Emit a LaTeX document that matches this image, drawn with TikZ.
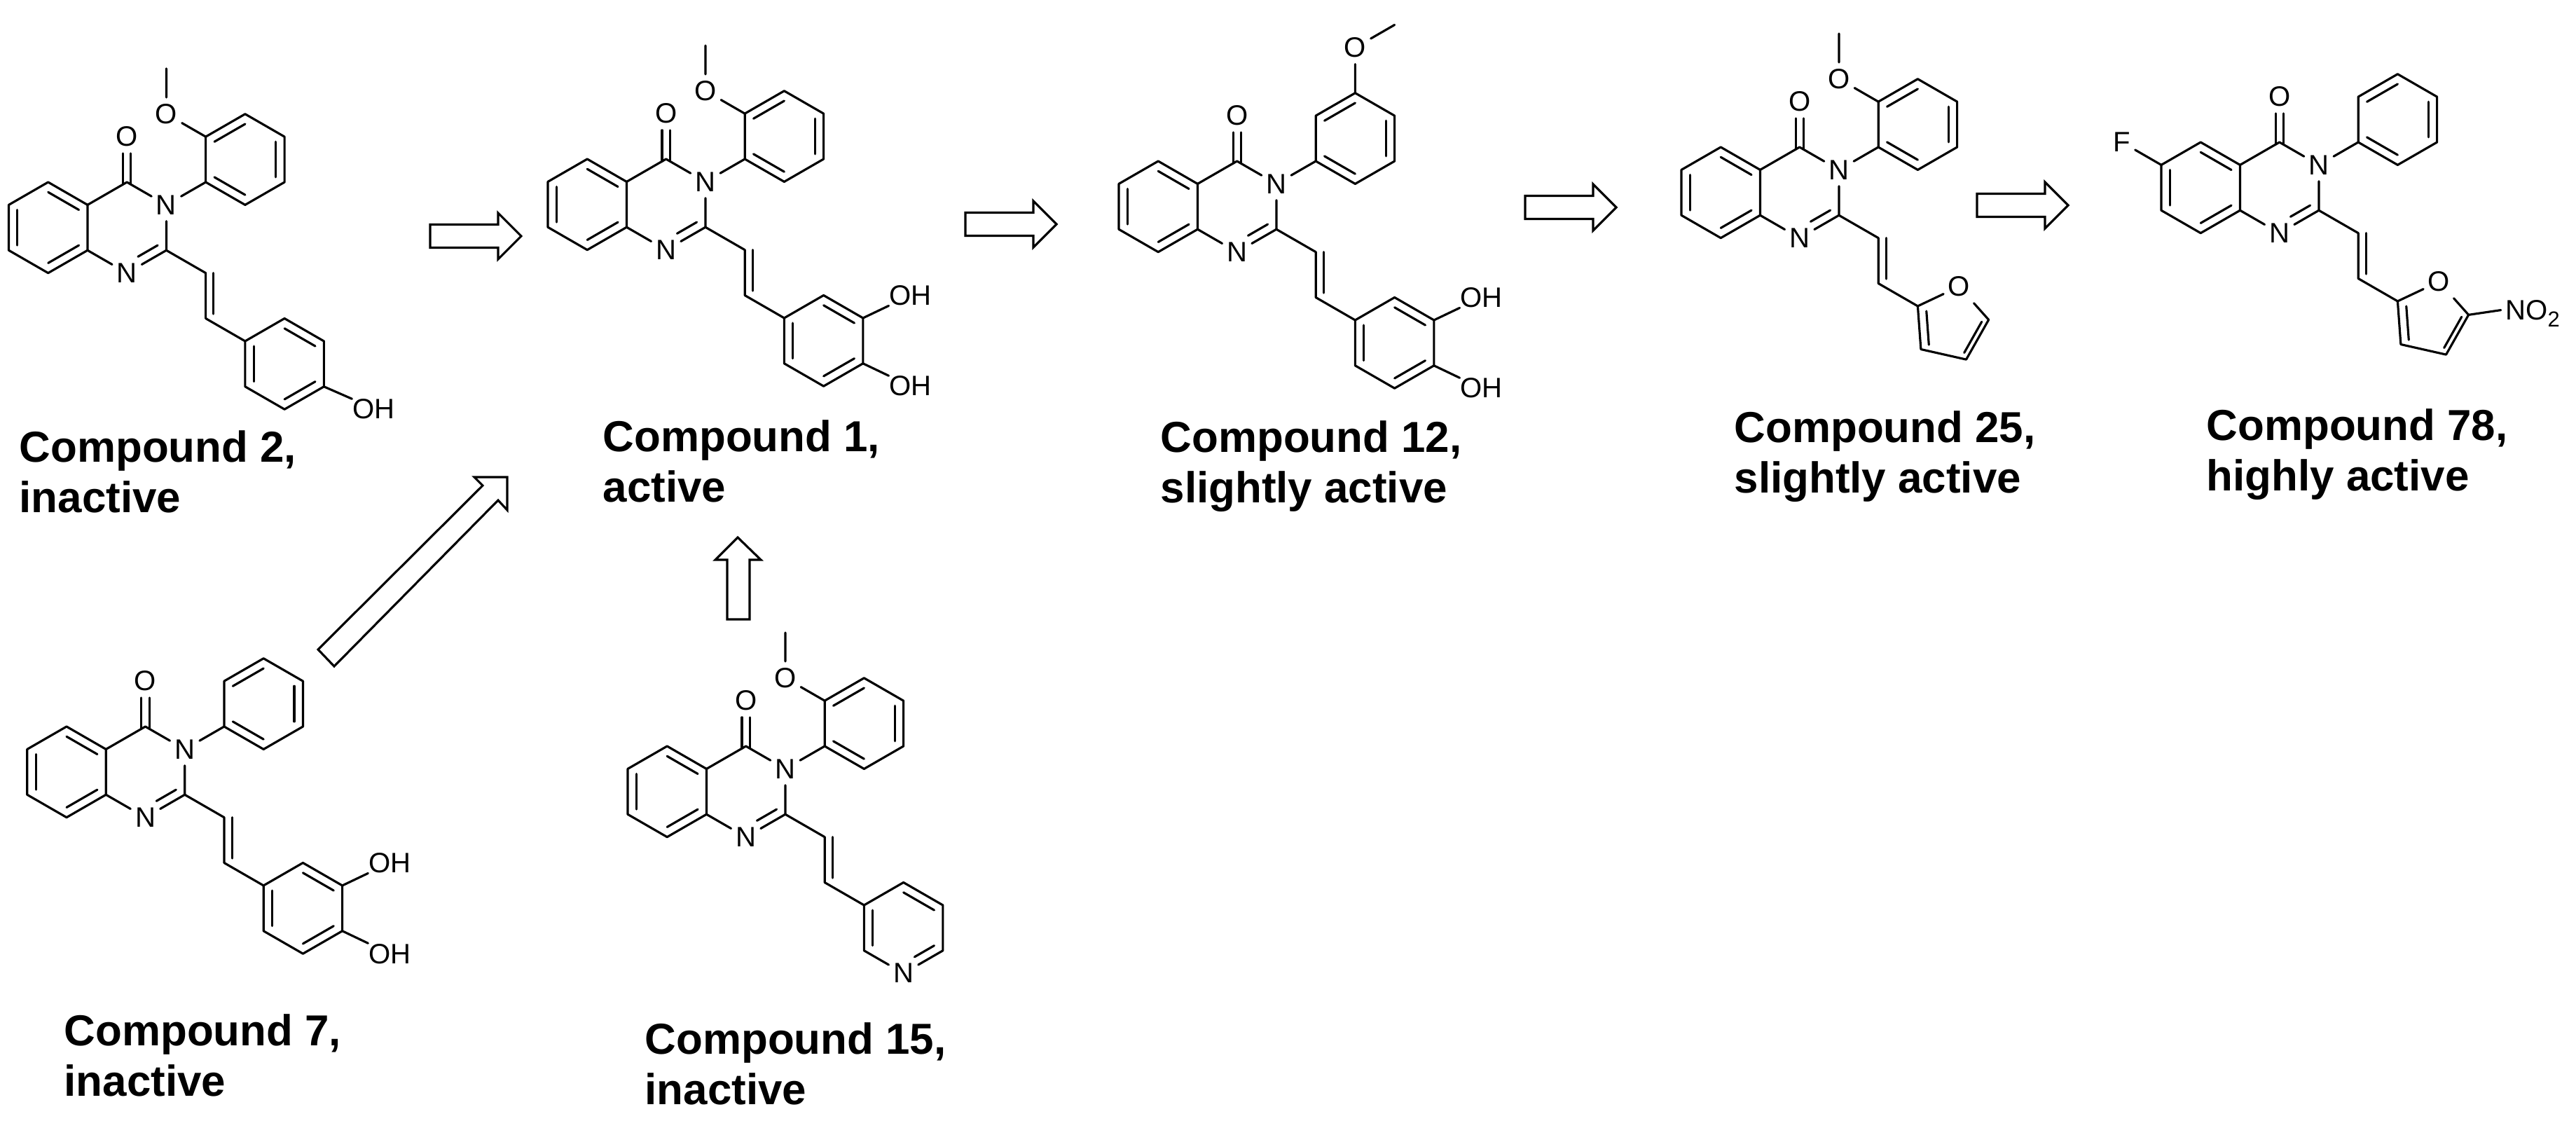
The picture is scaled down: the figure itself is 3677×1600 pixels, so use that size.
\documentclass[tikz,border=0pt]{standalone}
\usepackage{fontspec}
\setmainfont{Liberation Sans}
\usetikzlibrary{calc}

\tikzset{
    bond/.style={line width=.9pt, line cap=round, line join=round},
    hollow/.style={line width=.9pt, line join=miter},
    lattice/.style={x=.562cm, y=-.324cm},
    atom/.style={font=\fontsize{11.4}{11.4}\selectfont, inner xsep=1.7pt, inner ysep=2.5pt},
    hydroxy/.style={font=\fontsize{11.4}{11.4}\selectfont, inner sep=0pt},
    caption/.style={font=\bfseries\fontsize{17.6}{20.3}\selectfont, align=left, inner sep=0pt, anchor=base west},
}

% second line of a double bond, pulled towards the ring centre
\newcommand{\dbl}[3]{\draw[bond] ($(#1)!.22!(#3)$) -- ($(#2)!.22!(#3)$);}

% fused rings and the vinyl link
\newcommand{\core}{
    \coordinate (c4a) at (2,1);
    \coordinate (c5) at (1,0);
    \coordinate (c6) at (0,1);
    \coordinate (c7) at (0,3);
    \coordinate (c8) at (1,4);
    \coordinate (c8a) at (2,3);
    \coordinate (c4) at (3,0);
    \coordinate (c2) at (4,3);
    \coordinate (va) at (5,4);
    \coordinate (vb) at (5,6);
    \coordinate (mid) at (1,2);
    \node[atom] (n3) at (4,1) {N};
    \node[atom] (n1) at (3,4) {N};
    \node[atom] (o4) at (3,-2) {O};
    \draw[bond] (c4a) -- (c5) -- (c6) -- (c7) -- (c8) -- (c8a) -- cycle;
    \draw[bond] (c4a) -- (c4) -- (n3) -- (c2) -- (n1) -- (c8a);
    \draw[bond] (c2) -- (va) -- (vb);
    \dbl{c5}{c4a}{mid}
    \dbl{c6}{c7}{mid}
    \dbl{c8}{c8a}{mid}
    \draw[bond] (3.78,2.78) -- (3.28,3.28);
    \draw[bond] ($(o4.south)+(-.1,0)$) -- ($(c4)+(-.1,.1)$);
    \draw[bond] ($(o4.south)+(.1,0)$) -- ($(c4)+(.1,.1)$);
    \draw[bond] ($(va)+(.2,0)$) -- ($(vb)+(.2,-.2)$);
}

% phenyl on N3
\newcommand{\nphenyl}{
    \coordinate (p1) at (5,0);
    \coordinate (p2) at (5,-2);
    \coordinate (p3) at (6,-3);
    \coordinate (p4) at (7,-2);
    \coordinate (p5) at (7,0);
    \coordinate (p6) at (6,1);
    \coordinate (pm) at (6,-1);
    \draw[bond] (n3) -- (p1);
    \draw[bond] (p1) -- (p2) -- (p3) -- (p4) -- (p5) -- (p6) -- cycle;
    \dbl{p2}{p3}{pm}
    \dbl{p4}{p5}{pm}
    \dbl{p6}{p1}{pm}
}

% methoxy on the ortho carbon
\newcommand{\orthomethoxy}{
    \node[atom] (ome) at (4,-3) {O};
    \coordinate (me) at (4,-5);
    \draw[bond] (p2) -- (ome) -- (me);
}

% benzene ring at the end of the vinyl link
\newcommand{\styryl}{
    \coordinate (s1) at (6,7);
    \coordinate (s2) at (7,6);
    \coordinate (s3) at (8,7);
    \coordinate (s4) at (8,9);
    \coordinate (s5) at (7,10);
    \coordinate (s6) at (6,9);
    \coordinate (sm) at (7,8);
    \draw[bond] (vb) -- (s1);
    \draw[bond] (s1) -- (s2) -- (s3) -- (s4) -- (s5) -- (s6) -- cycle;
    \dbl{s2}{s3}{sm}
    \dbl{s6}{s1}{sm}
    \dbl{s4}{s5}{sm}
}

% the two OH groups
\newcommand{\catechol}{
    \node[hydroxy] (oha) at (9.2,6) {OH};
    \node[hydroxy] (ohb) at (9.2,10) {OH};
    \draw[bond] (s3) -- (oha.south west);
    \draw[bond] (s4) -- (ohb.north west);
}

% furan ring at the end of the vinyl link
\newcommand{\furan}{
    \coordinate (f2) at (6,7);
    \node[atom] (fo) at (7.05,6.14) {O};
    \coordinate (f5) at (7.8,7.6);
    \coordinate (f4) at (7.23,9.35);
    \coordinate (f3) at (6.08,8.9);
    \coordinate (fm) at (7,8);
    \draw[bond] (vb) -- (f2) -- (fo) -- (f5) -- (f4) -- (f3) -- (f2);
    \dbl{f2}{f3}{fm}
    \dbl{f5}{f4}{fm}
}

\begin{document}
\begin{tikzpicture}[x=.01cm, y=-.01cm]
    \useasboundingbox (0,0) rectangle (3677,1600);

    % compound 2
    \begin{scope}[shift={(12.5,260)}, lattice, name prefix=two-]
        \core
        \nphenyl
        \orthomethoxy
        \styryl
        \node[hydroxy] (oh) at (9.26,10) {OH};
        \draw[bond] (s4) -- (oh.north west);
    \end{scope}

    % compound 1
    \begin{scope}[shift={(782,227)}, lattice, name prefix=one-]
        \core
        \nphenyl
        \orthomethoxy
        \styryl
        \catechol
    \end{scope}

    % compound 12
    \begin{scope}[shift={(1597,230)}, lattice, name prefix=twelve-]
        \core
        \nphenyl
        \node[atom] (ome) at (6,-5) {O};
        \coordinate (me) at (7,-6);
        \draw[bond] (p3) -- (ome) -- (me);
        \styryl
        \catechol
    \end{scope}

    % compound 25
    \begin{scope}[shift={(2400,210)}, lattice, name prefix=tf-]
        \core
        \nphenyl
        \orthomethoxy
        \furan
    \end{scope}

    % compound 78
    \begin{scope}[shift={(3085,203)}, lattice, name prefix=sf-]
        \core
        \nphenyl
        \furan
        \node[atom] (fl) at (-1,0) {F};
        \draw[bond] (c6) -- (fl);
        \node[atom, anchor=west] (no) at (8.62,7.39) {NO\smash{\raisebox{-3pt}{\fontsize{8.8}{8.8}\selectfont 2}}};
        \draw[bond] (f5) -- (no.west);
    \end{scope}

    % compound 7
    \begin{scope}[shift={(38.8,1037)}, lattice, name prefix=seven-]
        \core
        \nphenyl
        \styryl
        \catechol
    \end{scope}

    % compound 15
    \begin{scope}[shift={(896,1065)}, lattice, name prefix=ft-]
        \core
        \nphenyl
        \orthomethoxy
        \coordinate (s1) at (6,7);
        \coordinate (s2) at (7,6);
        \coordinate (s3) at (8,7);
        \coordinate (s4) at (8,9);
        \node[atom] (py) at (7,10) {N};
        \coordinate (s6) at (6,9);
        \coordinate (sm) at (7,8);
        \draw[bond] (vb) -- (s1) -- (s2) -- (s3) -- (s4) -- (py) -- (s6) -- (s1);
        \dbl{s2}{s3}{sm}
        \dbl{s6}{s1}{sm}
        \draw[bond] (7.78,8.78) -- (7.28,9.28);
    \end{scope}

    % block arrows
    \foreach \ax/\ay in {614/337, 1378/320, 2177/296, 2822/293} {
        \draw[hollow] (\ax,\ay-16.5) -- ++(97,0) -- ++(0,-16.5) -- (\ax+130,\ay)
            -- (\ax+97,\ay+33) -- ++(0,-16.5) -- (\ax,\ay+16.5) -- cycle;
    }
    \draw[hollow] (1038,884) -- (1038,799) -- (1021,799) -- (1053,767)
        -- (1086,799) -- (1070,799) -- (1070,884) -- cycle;
    \draw[hollow] (454,927) -- (689,693) -- (677,681) -- (724,681)
        -- (724,728) -- (711,714) -- (477,951) -- cycle;

    % captions
    \node[caption] (capa) at (27,731) {Compound 2,\\inactive};
    \node[caption] (capb) at (860,716) {Compound 1,\\active};
    \node[caption] (capc) at (1656,717) {Compound 12,\\slightly active};
    \node[caption] (capd) at (2475,703) {Compound 25,\\slightly active};
    \node[caption] (cape) at (3149,700) {Compound 78,\\highly active};
    \node[caption] (capf) at (91,1564) {Compound 7,\\inactive};
    \node[caption] (capg) at (920,1576) {Compound 15,\\inactive};
\end{tikzpicture}
\end{document}
